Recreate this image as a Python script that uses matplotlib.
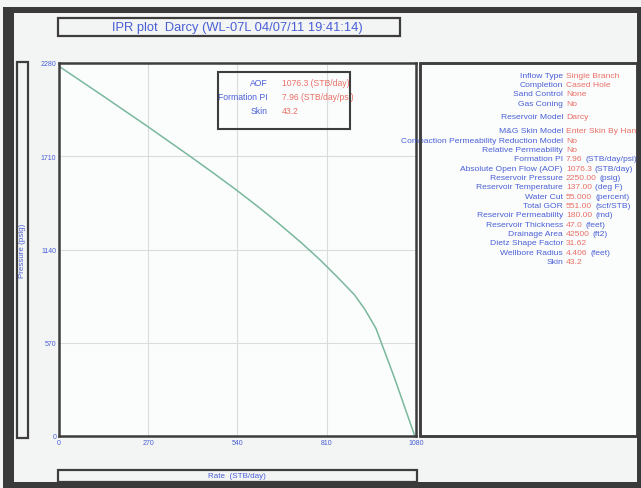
import matplotlib
matplotlib.use("Agg")
import matplotlib.pyplot as plt
from matplotlib.patches import Rectangle

# IPR curve
rate = [0, 130, 266, 395, 470, 539, 600, 660, 735, 790, 840, 893, 925, 959, 1014, 1076.3]
pressure = [2260, 2083, 1895, 1712, 1603, 1500, 1405, 1307, 1178, 1076, 976, 865, 775, 657, 360, 0]
x_ticks = [0, 270, 540, 810, 1080]
y_ticks = [0, 570, 1140, 1710, 2280]

inset_labels = ["AOF", "Formation PI", "Skin"]
inset_values = ["1076.3 (STB/day)", "7.96 (STB/day/psi)", "43.2"]

# right panel: label, value, unit
info_labels = ["Inflow Type", "Completion", "Sand Control", "Gas Coning", "",
               "Reservoir Model", "",
               "M&G Skin Model", "Compaction Permeability Reduction Model",
               "Relative Permeability", "Formation PI", "Absolute Open Flow (AOF)",
               "Reservoir Pressure", "Reservoir Temperature", "Water Cut",
               "Total GOR", "Reservoir Permeability", "Reservoir Thickness",
               "Drainage Area", "Dietz Shape Factor", "Wellbore Radius", "Skin"]
info_values = ["Single Branch", "Cased Hole", "None", "No", "",
               "Darcy", "",
               "Enter Skin By Hand", "No", "No", "7.96", "1076.3",
               "2250.00", "137.00", "55.000", "551.00", "180.00", "47.0",
               "42500", "31.62", "4.406", "43.2"]
info_units = ["", "", "", "", "", "", "", "", "", "",
              "(STB/day/psi)", "(STB/day)", "(psig)", "(deg F)", "(percent)",
              "(scf/STB)", "(md)", "(feet)", "(ft2)", "", "(feet)", ""]

W, H = 641, 489
blue = "#4a5fd6"
red = "#ea6f66"
edge = "#3d3d3d"

fig = plt.figure(figsize=(W / 100, H / 100), dpi=100, facecolor="#f3f5f4")
plt.rcParams["font.family"] = ["Liberation Sans", "DejaVu Sans"]
renderer = fig.canvas.get_renderer()


def fx(x):
    return x / W


def fy(y):
    return 1 - y / H


def box(x0, y0, x1, y1, lw=1.6, fc="none", z=5):
    fig.patches.append(Rectangle((fx(x0), fy(y1)), fx(x1 - x0), (y1 - y0) / H,
                                 transform=fig.transFigure, fill=fc != "none",
                                 facecolor=fc, edgecolor=edge, lw=lw, zorder=z))


def band(x0, y0, x1, y1):
    fig.patches.append(Rectangle((fx(x0), fy(y1)), fx(x1 - x0), (y1 - y0) / H,
                                 transform=fig.transFigure, facecolor="#3a3a3a",
                                 edgecolor="none", zorder=10))


# main plot
ax = fig.add_axes([fx(59), fy(437), fx(416 - 59), (437 - 64) / H])
ax.set_facecolor("#fbfdfc")
ax.plot(rate, pressure, color="#79b89c", lw=1.1)
ax.set_xlim(0, 1080)
ax.set_ylim(0, 2280)
ax.set_xticks(x_ticks)
ax.set_yticks(y_ticks)
ax.grid(color="#d9dcdb", lw=0.8)
ax.tick_params(length=0, labelsize=5, labelcolor=blue, pad=2)
for s in ax.spines.values():
    s.set_color(edge)
    s.set_linewidth(1.8)

# inset box with results
box(218, 73, 350, 130, lw=1.5)
for i, (lab, val) in enumerate(zip(inset_labels, inset_values)):
    yy = 83 + i * 14
    fig.text(fx(268), fy(yy), lab, color=blue, fontsize=6.2, ha="right", va="center")
    fig.text(fx(282), fy(yy), val, color=red, fontsize=6.2, ha="left", va="center")

# right info panel
box(420, 64, 637, 437, lw=1.8, fc="#fbfdfc", z=1)
box(420, 64, 637, 437, lw=1.8)
yy = 76
for lab, val, unit in zip(info_labels, info_values, info_units):
    if lab == "":
        yy += 4.5
        continue
    fig.text(fx(563), fy(yy), lab, color=blue, fontsize=6.1, ha="right", va="center", zorder=2)
    t = fig.text(fx(566), fy(yy), val, color=red, fontsize=6.1, ha="left", va="center", zorder=2)
    if unit:
        x_end = t.get_window_extent(renderer).x1
        fig.text((x_end + 3) / W, fy(yy), unit, color=blue, fontsize=6.1,
                 ha="left", va="center", zorder=2)
    yy += 9.35

# title, axis label boxes
box(58, 19, 400, 37, lw=1.6)
fig.text(fx(237), fy(28), "IPR plot  Darcy (WL-07L 04/07/11 19:41:14)",
         color=blue, fontsize=9.3, ha="center", va="center")
box(58, 471, 417, 483, lw=1.6)
fig.text(fx(237), fy(477), "Rate  (STB/day)", color=blue, fontsize=5.8,
         ha="center", va="center")
box(17, 63, 28, 439, lw=1.6)
fig.text(fx(22.5), fy(251), "Pressure (psig)", color=blue, fontsize=5.8,
         ha="center", va="center", rotation=90)

# scanned outer frame
band(3, 8, 14, 489)
band(3, 8, 641, 14)
band(3, 483, 641, 489)
band(637, 8, 641, 489)

fig.savefig("out.png", dpi=100, facecolor=fig.get_facecolor())
